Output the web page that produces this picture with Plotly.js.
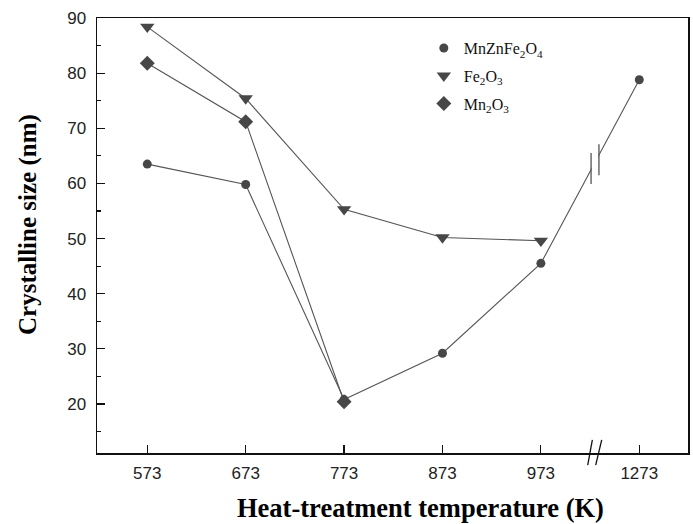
<!DOCTYPE html>
<html>
<head>
<meta charset="utf-8">
<script src="https://cdn.plot.ly/plotly-3.0.1.min.js"></script>
<style>html,body{margin:0;padding:0;background:#fff;}#chart{width:693px;height:524px;}</style>
</head>
<body>
<div id="chart"></div>
<script>
// Data
const temperatures = [573, 673, 773, 873, 973, 1273];
const tickLabels = ['573', '673', '773', '873', '973', '1273'];
const mnznFe2O4 = [63.5, 59.8, 20.8, 29.2, 45.5, 78.8];
const fe2O3Temps = [573, 673, 773, 873, 973];
const fe2O3 = [88.4, 75.4, 55.3, 50.2, 49.6];
const mn2O3Temps = [573, 673, 773];
const mn2O3 = [81.8, 71.2, 20.4];

// broken axis: 1273 K is drawn one step after 973 K
const BREAK_SHIFT = 200;
const pos = t => (t > 1000 ? t - BREAK_SHIFT : t);

const markerColor = '#474747';
const lineColor = '#555555';

const series = [
  {name: 'MnZnFe<sub>2</sub>O<sub>4</sub>', x: temperatures, y: mnznFe2O4, symbol: 'circle', size: 9},
  {name: 'Fe<sub>2</sub>O<sub>3</sub>', x: fe2O3Temps, y: fe2O3, symbol: 'triangle-down', size: 12.5},
  {name: 'Mn<sub>2</sub>O<sub>3</sub>', x: mn2O3Temps, y: mn2O3, symbol: 'diamond', size: 11.5}
];

const traces = [];
series.forEach((s, i) => {
  traces.push({
    x: s.x.map(pos), y: s.y, mode: 'lines', showlegend: false,
    line: {color: lineColor, width: 1.1}, hoverinfo: 'skip'
  });
});
series.forEach((s, i) => {
  traces.push({
    x: s.x.map(pos), y: s.y, mode: 'markers', name: s.name,
    legendgroup: 'g' + i,
    marker: {symbol: s.symbol, size: s.size, color: markerColor}
  });
});

const breakX = [1024, 1032];
const shapes = [
  // gap in the data line
  {type: 'rect', xref: 'x', yref: 'y', x0: 1024.6, x1: 1031.4, y0: 61.0, y1: 66.4,
   fillcolor: '#ffffff', line: {width: 0}, layer: 'above'},
  {type: 'line', xref: 'x', yref: 'y', x0: breakX[0], x1: breakX[0], y0: 59.9, y1: 65.5,
   line: {color: '#555', width: 1.3}},
  {type: 'line', xref: 'x', yref: 'y', x0: breakX[1], x1: breakX[1], y0: 61.5, y1: 67.1,
   line: {color: '#555', width: 1.3}},
  // axis break slashes
  {type: 'line', xref: 'x', yref: 'paper', x0: 1020.6, x1: 1025.3, y0: -0.028, y1: 0.03,
   line: {color: '#111', width: 1.3}},
  {type: 'line', xref: 'x', yref: 'paper', x0: 1028.7, x1: 1034.8, y0: -0.028, y1: 0.03,
   line: {color: '#111', width: 1.3}}
];

const layout = {
  width: 693, height: 524,
  margin: {l: 97, r: 5, t: 18, b: 71},
  paper_bgcolor: '#fff', plot_bgcolor: '#fff',
  showlegend: true,
  legend: {
    x: 0.553, y: 0.97, xanchor: 'left', yanchor: 'top',
    bgcolor: 'rgba(0,0,0,0)', traceorder: 'grouped', tracegroupgap: 4,
    font: {family: 'Liberation Serif', size: 16, color: '#111'}
  },
  xaxis: {
    range: [521.9, 1122.5],
    tickvals: temperatures.map(pos), ticktext: tickLabels,
    ticks: 'inside', ticklen: 8, tickwidth: 1.2, tickcolor: '#111',
    showline: true, mirror: true, linecolor: '#111', linewidth: 1.5,
    showgrid: false, zeroline: false,
    tickfont: {family: 'Liberation Sans', size: 17, color: '#222'},
    ticklabelstandoff: 4
  },
  yaxis: {
    range: [11.11, 90],
    tickvals: [20, 30, 40, 50, 60, 70, 80, 90],
    ticks: 'inside', ticklen: 8, tickwidth: 1.2, tickcolor: '#111',
    minor: {tickvals: [15, 25, 35, 45, 55, 65, 75, 85], ticks: 'inside', ticklen: 4, tickwidth: 1.2, tickcolor: '#111'},
    showline: true, mirror: true, linecolor: '#111', linewidth: 1.5,
    showgrid: false, zeroline: false,
    tickfont: {family: 'Liberation Sans', size: 17, color: '#222'},
    ticklabelstandoff: 6
  },
  shapes: shapes,
  annotations: [
    {text: '<b>Heat-treatment temperature (K)</b>', xref: 'paper', yref: 'paper',
     x: (420 - 97) / 591, y: (453 - 508) / 435, xanchor: 'center', yanchor: 'middle',
     showarrow: false, font: {family: 'Liberation Serif', size: 26.5, color: '#000'}},
    {text: '<b>Crystalline size (nm)</b>', xref: 'paper', yref: 'paper',
     x: (28 - 97) / 591, y: (453 - 225) / 435, xanchor: 'center', yanchor: 'middle',
     textangle: -90, showarrow: false, font: {family: 'Liberation Serif', size: 25, color: '#000'}}
  ]
};

Plotly.newPlot('chart', traces, layout, {displayModeBar: false, staticPlot: true});
</script>
</body>
</html>
